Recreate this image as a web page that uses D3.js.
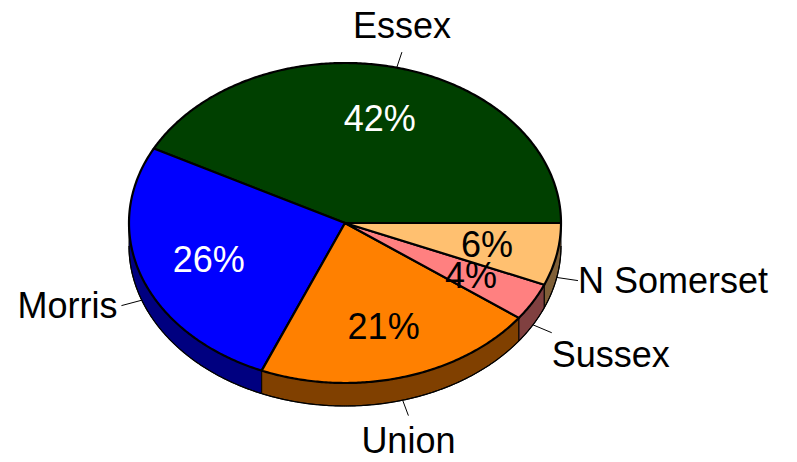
<!DOCTYPE html>
<html lang="en">
  <head>
    <meta charset="utf-8">
    <title>County shares</title>
    <script src="https://cdnjs.cloudflare.com/ajax/libs/d3/7.8.5/d3.min.js"></script>
    <style type="text/css">
      body { margin: 0; background: #fff; }
      .lbl { font-family: 'Liberation Sans', Arial, sans-serif; font-size: 36px; }
    </style>
  </head>
  <body>
    <svg id="chart" width="797" height="462"></svg>
    <script type="text/javascript">
// data
var counties = ["Essex", "Morris", "Union", "Sussex", "N Somerset"];
var shares = [42.3, 26.4, 21.2, 3.8, 6.3];
var topColors = ["#004000", "#0000ff", "#ff8000", "#ff8080", "#ffc070"];
var pctColors = ["#ffffff", "#ffffff", "#000000", "#000000", "#000000"];

var w = 797, h = 462;
var cx = 345, cy = 223, rx = 216, ry = 160, depth = 23;

var svg = d3.select("#chart");
var total = d3.sum(shares);
var fmt = d3.format(".0%");

// counter-clockwise from 3 o'clock: d3 angle a -> point (cx + rx sin a, cy - ry cos a)
var pie = d3.pie().sort(null).startAngle(Math.PI / 2).endAngle(Math.PI / 2 - 2 * Math.PI);
var arcs = pie(shares);

function pt(a, k, dz) {
  return [cx + rx * k * Math.sin(a), cy - ry * k * Math.cos(a) + (dz || 0)];
}
function arcPts(a0, a1, k, dz) {
  var n = Math.max(2, Math.ceil(Math.abs(a1 - a0) / 0.01));
  return d3.range(n + 1).map(function(i) { return pt(a0 + (a1 - a0) * i / n, k, dz); });
}
function half(col) {
  var c = d3.rgb(col);
  return d3.rgb(c.r / 2, c.g / 2, c.b / 2).formatHex();
}
var line = d3.line();

// side walls (front half only)
var lo = -3 * Math.PI / 2, hi = -Math.PI / 2;
arcs.forEach(function(d, i) {
  var a0 = Math.min(d.startAngle, hi), a1 = Math.max(d.endAngle, lo);
  if (a0 <= a1) return;
  var pts = arcPts(a0, a1, 1, 0).concat(arcPts(a1, a0, 1, depth));
  svg.append("path")
    .attr("d", line(pts) + "Z")
    .attr("fill", half(topColors[i]))
    .attr("stroke", "#000")
    .attr("stroke-width", 1)
    .attr("stroke-linejoin", "round");
});
// bottom rim
svg.append("path")
  .attr("d", line(arcPts(hi, lo, 1, depth)))
  .attr("fill", "none").attr("stroke", "#000").attr("stroke-width", 1.2);

// top faces
arcs.forEach(function(d, i) {
  var pts = [[cx, cy]].concat(arcPts(d.startAngle, d.endAngle, 1, 0));
  svg.append("path")
    .attr("d", line(pts) + "Z")
    .attr("fill", topColors[i])
    .attr("stroke", "#000")
    .attr("stroke-width", 2.2)
    .attr("stroke-linejoin", "round");
});

// percentages
arcs.forEach(function(d, i) {
  var m = (d.startAngle + d.endAngle) / 2;
  var p = pt(m, 0.67, 0);
  svg.append("text")
    .attr("class", "lbl")
    .attr("x", p[0]).attr("y", p[1])
    .attr("text-anchor", "middle")
    .attr("dominant-baseline", "central")
    .attr("fill", pctColors[i])
    .text(fmt(shares[i] / total));
});

// names with leader lines
arcs.forEach(function(d, i) {
  var m = (d.startAngle + d.endAngle) / 2;
  var c = Math.sin(m), s = Math.cos(m);
  var dz = s < 0 ? depth : 0;
  var p0 = pt(m, 1, dz), p1 = pt(m, 1.1, dz);
  svg.append("line")
    .attr("x1", p0[0]).attr("y1", p0[1]).attr("x2", p1[0]).attr("y2", p1[1])
    .attr("stroke", "#000").attr("stroke-width", 1);
  var t = svg.append("text").attr("class", "lbl").attr("fill", "#000").text(counties[i]);
  if (Math.abs(c) < 0.35) {
    t.attr("text-anchor", "middle").attr("x", p1[0])
      .attr("y", s > 0 ? p1[1] - 14 : p1[1] + 37);
  } else {
    t.attr("text-anchor", c > 0 ? "start" : "end")
      .attr("x", c > 0 ? p1[0] : p1[0] - 4)
      .attr("y", p1[1] + (s < -0.4 ? 22 : 0))
      .attr("dominant-baseline", "central");
  }
});
    </script>
  </body>
</html>
